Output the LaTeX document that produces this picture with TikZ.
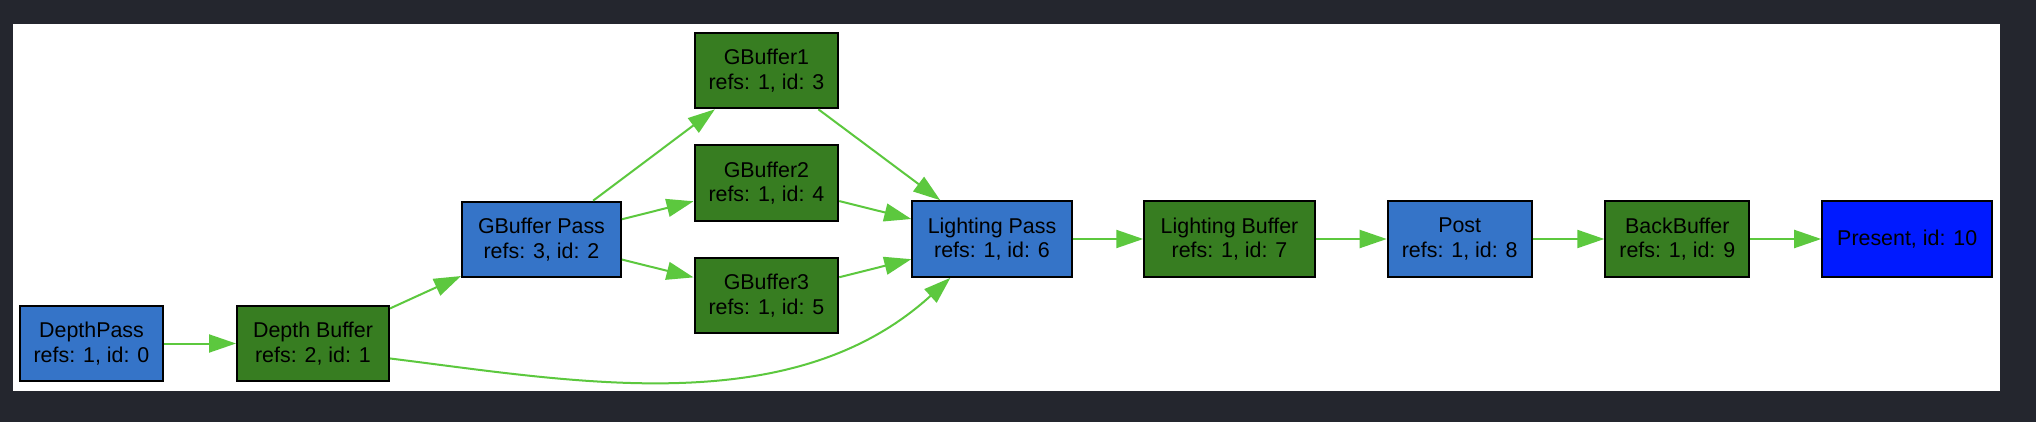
\documentclass[tikz,border=0pt]{standalone}
\usepackage{fontspec}
\setmainfont{Liberation Sans}
\usetikzlibrary{arrows.meta}
\definecolor{bgdark}{RGB}{36,38,46}
\definecolor{passblue}{RGB}{53,116,200}
\definecolor{resgreen}{RGB}{55,125,33}
\definecolor{presblue}{RGB}{0,26,255}
\definecolor{edgegreen}{RGB}{92,200,62}
\begin{document}
\begin{tikzpicture}[x=1pt,y=-1pt,
  box/.style={draw=black,line width=2pt,minimum height=75.6pt,inner sep=0pt,align=center,
    font=\fontsize{21.4}{24.7}\selectfont,text=black},
  pass/.style={box,fill=passblue},
  res/.style={box,fill=resgreen},
  present/.style={box,fill=presblue},
  edge/.style={draw=edgegreen,line width=2pt,-{Triangle[length=27pt,width=18pt]}}]
\useasboundingbox (0,0) rectangle (2036,422);
\fill[bgdark] (0,0) rectangle (2036,422);
\fill[white] (12.5,24) rectangle (1999.7,390.7);

\node[pass,minimum width=143pt]   (dp) at (91.5,343.5)  {DepthPass\\refs: 1, id: 0};
\node[res,minimum width=152pt]    (db) at (313,343.5)   {Depth Buffer\\refs: 2, id: 1};
\node[pass,minimum width=159pt]   (gp) at (541.5,239.5) {GBuffer Pass\\refs: 3, id: 2};
\node[res,minimum width=143.7pt]  (g1) at (766.4,70.5)  {GBuffer1\\refs: 1, id: 3};
\node[res,minimum width=143.7pt]  (g2) at (766.4,183)   {GBuffer2\\refs: 1, id: 4};
\node[res,minimum width=143.7pt]  (g3) at (766.4,295.5) {GBuffer3\\refs: 1, id: 5};
\node[pass,minimum width=159.4pt] (lp) at (992,239)     {Lighting Pass\\refs: 1, id: 6};
\node[res,minimum width=170.5pt]  (lb) at (1229.5,239)  {Lighting Buffer\\refs: 1, id: 7};
\node[pass,minimum width=144pt]   (po) at (1459.7,239)  {Post\\refs: 1, id: 8};
\node[res,minimum width=144pt]    (bb) at (1677.3,239)  {BackBuffer\\refs: 1, id: 9};
\node[present,minimum width=170pt] (pr) at (1907.2,239) {Present, id: 10};

\draw[edge] (dp) -- (db);
\draw[edge] (db) -- (gp);
\draw[edge] (gp) -- (g1);
\draw[edge] (gp) -- (g2);
\draw[edge] (gp) -- (g3);
\draw[edge] (g1) -- (lp);
\draw[edge] (g2) -- (lp);
\draw[edge] (g3) -- (lp);
\draw[edge] (db.-11.7) .. controls (575,381.4) and (792,422) .. (lp.223.4);
\draw[edge] (lp) -- (lb);
\draw[edge] (lb) -- (po);
\draw[edge] (po) -- (bb);
\draw[edge] (bb) -- (pr);
\end{tikzpicture}
\end{document}
